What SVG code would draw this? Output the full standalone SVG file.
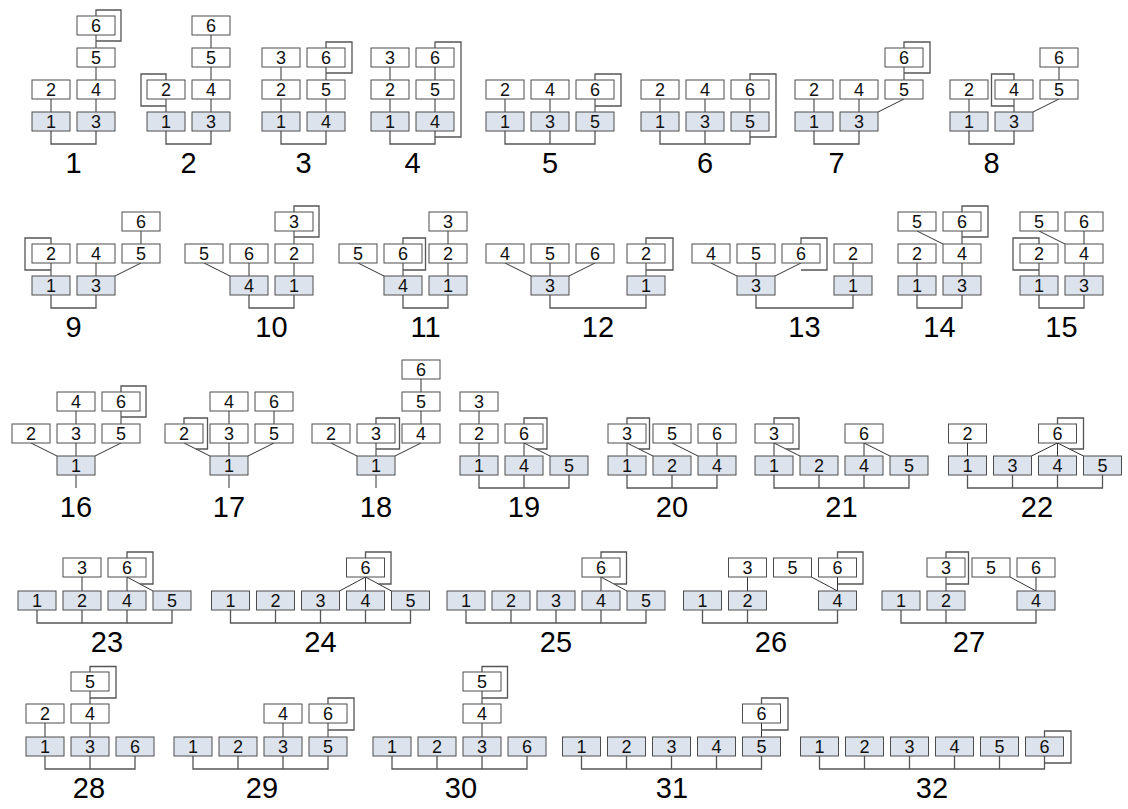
<svg xmlns="http://www.w3.org/2000/svg" width="1128" height="809" viewBox="0 0 1128 809">
<style>
rect{width:38px;height:19px;stroke:#4d4d4d;stroke-width:1}
.n{fill:#fff}
.g{fill:#dde3ec}
text{font-family:"Liberation Sans",Arial,sans-serif;text-anchor:middle;fill:#111}
.t{font-size:18px;transform:translateY(0.5px)}
.lab{font-size:29px;fill:#000}
.e{fill:none;stroke:#333;stroke-width:1}
.l{fill:none;stroke:#555;stroke-width:1.3}
.b{fill:none;stroke:#555;stroke-width:1.3}
</style>
<rect width="1128" height="809" style="width:1128px;height:809px;fill:#fff;stroke:none"/>

<!-- ===== Row 1 ===== -->
<g id="d1">
<g id="d1-connectors"><path class="e" d="M51 99V112M96 99V112M96 67V80M96 35V48"/><path class="l" d="M96 16V10H121V41H96"/><path class="b" d="M51 131V144H96V131"/></g>
<g id="d1-n1"><rect class="g" x="32" y="112"/><text class="t" x="51" y="127.5">1</text></g>
<g id="d1-n3"><rect class="g" x="77" y="112"/><text class="t" x="96" y="127.5">3</text></g>
<g id="d1-n2"><rect class="n" x="32" y="80"/><text class="t" x="51" y="95.5">2</text></g>
<g id="d1-n4"><rect class="n" x="77" y="80"/><text class="t" x="96" y="95.5">4</text></g>
<g id="d1-n5"><rect class="n" x="77" y="48"/><text class="t" x="96" y="63.5">5</text></g>
<g id="d1-n6"><rect class="n" x="77" y="16"/><text class="t" x="96" y="31.5">6</text></g>
<text class="lab" x="73.5" y="173">1</text>
</g>

<g id="d2">
<g id="d2-connectors"><path class="e" d="M166 99V112M211 99V112M211 67V80M211 35V48"/><path class="l" d="M166 80V74H141V106H166"/><path class="b" d="M166 131V144H211V131"/></g>
<g id="d2-n1"><rect class="g" x="147" y="112"/><text class="t" x="166" y="127.5">1</text></g>
<g id="d2-n3"><rect class="g" x="192" y="112"/><text class="t" x="211" y="127.5">3</text></g>
<g id="d2-n2"><rect class="n" x="147" y="80"/><text class="t" x="166" y="95.5">2</text></g>
<g id="d2-n4"><rect class="n" x="192" y="80"/><text class="t" x="211" y="95.5">4</text></g>
<g id="d2-n5"><rect class="n" x="192" y="48"/><text class="t" x="211" y="63.5">5</text></g>
<g id="d2-n6"><rect class="n" x="192" y="16"/><text class="t" x="211" y="31.5">6</text></g>
<text class="lab" x="188.5" y="173">2</text>
</g>

<g id="d3">
<g id="d3-connectors"><path class="e" d="M281 99V112M281 67V80M326 99V112M326 67V80"/><path class="l" d="M326 48V42H352V73H326"/><path class="b" d="M281 131V144H326V131"/></g>
<g id="d3-n1"><rect class="g" x="262" y="112"/><text class="t" x="281" y="127.5">1</text></g>
<g id="d3-n4"><rect class="g" x="307" y="112"/><text class="t" x="326" y="127.5">4</text></g>
<g id="d3-n2"><rect class="n" x="262" y="80"/><text class="t" x="281" y="95.5">2</text></g>
<g id="d3-n5"><rect class="n" x="307" y="80"/><text class="t" x="326" y="95.5">5</text></g>
<g id="d3-n3"><rect class="n" x="262" y="48"/><text class="t" x="281" y="63.5">3</text></g>
<g id="d3-n6"><rect class="n" x="307" y="48"/><text class="t" x="326" y="63.5">6</text></g>
<text class="lab" x="303.5" y="173">3</text>
</g>

<g id="d4">
<g id="d4-connectors"><path class="e" d="M390 99V112M390 67V80M435 99V112M435 67V80"/><path class="l" d="M435 48V42H461V137H435"/><path class="b" d="M390 131V144H435V131"/></g>
<g id="d4-n1"><rect class="g" x="371" y="112"/><text class="t" x="390" y="127.5">1</text></g>
<g id="d4-n4"><rect class="g" x="416" y="112"/><text class="t" x="435" y="127.5">4</text></g>
<g id="d4-n2"><rect class="n" x="371" y="80"/><text class="t" x="390" y="95.5">2</text></g>
<g id="d4-n5"><rect class="n" x="416" y="80"/><text class="t" x="435" y="95.5">5</text></g>
<g id="d4-n3"><rect class="n" x="371" y="48"/><text class="t" x="390" y="63.5">3</text></g>
<g id="d4-n6"><rect class="n" x="416" y="48"/><text class="t" x="435" y="63.5">6</text></g>
<text class="lab" x="412.5" y="173">4</text>
</g>

<g id="d5">
<g id="d5-connectors"><path class="e" d="M505 99V112M550 99V112M595 99V112"/><path class="l" d="M595 80V74H621V106H595"/><path class="b" d="M505 131V144H595V131M550 131V144"/></g>
<g id="d5-n1"><rect class="g" x="486" y="112"/><text class="t" x="505" y="127.5">1</text></g>
<g id="d5-n3"><rect class="g" x="531" y="112"/><text class="t" x="550" y="127.5">3</text></g>
<g id="d5-n5"><rect class="g" x="576" y="112"/><text class="t" x="595" y="127.5">5</text></g>
<g id="d5-n2"><rect class="n" x="486" y="80"/><text class="t" x="505" y="95.5">2</text></g>
<g id="d5-n4"><rect class="n" x="531" y="80"/><text class="t" x="550" y="95.5">4</text></g>
<g id="d5-n6"><rect class="n" x="576" y="80"/><text class="t" x="595" y="95.5">6</text></g>
<text class="lab" x="550" y="173">5</text>
</g>

<g id="d6">
<g id="d6-connectors"><path class="e" d="M660 99V112M705 99V112M750 99V112"/><path class="l" d="M750 80V74H776V137H750"/><path class="b" d="M660 131V144H750V131M705 131V144"/></g>
<g id="d6-n1"><rect class="g" x="641" y="112"/><text class="t" x="660" y="127.5">1</text></g>
<g id="d6-n3"><rect class="g" x="686" y="112"/><text class="t" x="705" y="127.5">3</text></g>
<g id="d6-n5"><rect class="g" x="731" y="112"/><text class="t" x="750" y="127.5">5</text></g>
<g id="d6-n2"><rect class="n" x="641" y="80"/><text class="t" x="660" y="95.5">2</text></g>
<g id="d6-n4"><rect class="n" x="686" y="80"/><text class="t" x="705" y="95.5">4</text></g>
<g id="d6-n6"><rect class="n" x="731" y="80"/><text class="t" x="750" y="95.5">6</text></g>
<text class="lab" x="705" y="173">6</text>
</g>

<g id="d7">
<g id="d7-connectors"><path class="e" d="M814 99V112M859 99V112M904 99L878 112M904 67V80"/><path class="l" d="M904 48V42H930V73H904"/><path class="b" d="M814 131V144H859V131"/></g>
<g id="d7-n1"><rect class="g" x="795" y="112"/><text class="t" x="814" y="127.5">1</text></g>
<g id="d7-n3"><rect class="g" x="840" y="112"/><text class="t" x="859" y="127.5">3</text></g>
<g id="d7-n2"><rect class="n" x="795" y="80"/><text class="t" x="814" y="95.5">2</text></g>
<g id="d7-n4"><rect class="n" x="840" y="80"/><text class="t" x="859" y="95.5">4</text></g>
<g id="d7-n5"><rect class="n" x="885" y="80"/><text class="t" x="904" y="95.5">5</text></g>
<g id="d7-n6"><rect class="n" x="885" y="48"/><text class="t" x="904" y="63.5">6</text></g>
<text class="lab" x="836.5" y="173">7</text>
</g>

<g id="d8">
<g id="d8-connectors"><path class="e" d="M969 99V112M1014 99V112M1059 99L1033 112M1059 67V80"/><path class="l" d="M1014 80V74H991.5V106H1014"/><path class="b" d="M969 131V144H1014V131"/></g>
<g id="d8-n1"><rect class="g" x="950" y="112"/><text class="t" x="969" y="127.5">1</text></g>
<g id="d8-n3"><rect class="g" x="995" y="112"/><text class="t" x="1014" y="127.5">3</text></g>
<g id="d8-n2"><rect class="n" x="950" y="80"/><text class="t" x="969" y="95.5">2</text></g>
<g id="d8-n4"><rect class="n" x="995" y="80"/><text class="t" x="1014" y="95.5">4</text></g>
<g id="d8-n5"><rect class="n" x="1040" y="80"/><text class="t" x="1059" y="95.5">5</text></g>
<g id="d8-n6"><rect class="n" x="1040" y="48"/><text class="t" x="1059" y="63.5">6</text></g>
<text class="lab" x="991.5" y="173">8</text>
</g>

<!-- ===== Row 2 ===== -->
<g id="d9">
<g id="d9-connectors"><path class="e" d="M51 263V276M96 263V276M141 263L115 276M141 231V244"/><path class="l" d="M51 244V238H25V270H51"/><path class="b" d="M51 295V308H96V295"/></g>
<g id="d9-n1"><rect class="g" x="32" y="276"/><text class="t" x="51" y="291.5">1</text></g>
<g id="d9-n3"><rect class="g" x="77" y="276"/><text class="t" x="96" y="291.5">3</text></g>
<g id="d9-n2"><rect class="n" x="32" y="244"/><text class="t" x="51" y="259.5">2</text></g>
<g id="d9-n4"><rect class="n" x="77" y="244"/><text class="t" x="96" y="259.5">4</text></g>
<g id="d9-n5"><rect class="n" x="122" y="244"/><text class="t" x="141" y="259.5">5</text></g>
<g id="d9-n6"><rect class="n" x="122" y="212"/><text class="t" x="141" y="227.5">6</text></g>
<text class="lab" x="73.5" y="337">9</text>
</g>

<g id="d10">
<g id="d10-connectors"><path class="e" d="M204 263L230 276M249 263V276M294 263V276M294 231V244"/><path class="l" d="M294 212V206H319V237H294"/><path class="b" d="M249 295V308H294V295"/></g>
<g id="d10-n4"><rect class="g" x="230" y="276"/><text class="t" x="249" y="291.5">4</text></g>
<g id="d10-n1"><rect class="g" x="275" y="276"/><text class="t" x="294" y="291.5">1</text></g>
<g id="d10-n5"><rect class="n" x="185" y="244"/><text class="t" x="204" y="259.5">5</text></g>
<g id="d10-n6"><rect class="n" x="230" y="244"/><text class="t" x="249" y="259.5">6</text></g>
<g id="d10-n2"><rect class="n" x="275" y="244"/><text class="t" x="294" y="259.5">2</text></g>
<g id="d10-n3"><rect class="n" x="275" y="212"/><text class="t" x="294" y="227.5">3</text></g>
<text class="lab" x="271.5" y="337">10</text>
</g>

<g id="d11">
<g id="d11-connectors"><path class="e" d="M358 263L384 276M403 263V276M448 263V276M448 231V244"/><path class="l" d="M403 244V238H425.5V270H403"/><path class="b" d="M403 295V308H448V295"/></g>
<g id="d11-n4"><rect class="g" x="384" y="276"/><text class="t" x="403" y="291.5">4</text></g>
<g id="d11-n1"><rect class="g" x="429" y="276"/><text class="t" x="448" y="291.5">1</text></g>
<g id="d11-n5"><rect class="n" x="339" y="244"/><text class="t" x="358" y="259.5">5</text></g>
<g id="d11-n6"><rect class="n" x="384" y="244"/><text class="t" x="403" y="259.5">6</text></g>
<g id="d11-n2"><rect class="n" x="429" y="244"/><text class="t" x="448" y="259.5">2</text></g>
<g id="d11-n3"><rect class="n" x="429" y="212"/><text class="t" x="448" y="227.5">3</text></g>
<text class="lab" x="425.5" y="337">11</text>
</g>

<g id="d12">
<g id="d12-connectors"><path class="e" d="M505 263L531 276M550 263V276M595 263L569 276M646 263V276"/><path class="l" d="M646 244V238H673V270H646"/><path class="b" d="M550 295V308H646V295"/></g>
<g id="d12-n3"><rect class="g" x="531" y="276"/><text class="t" x="550" y="291.5">3</text></g>
<g id="d12-n1"><rect class="g" x="627" y="276"/><text class="t" x="646" y="291.5">1</text></g>
<g id="d12-n4"><rect class="n" x="486" y="244"/><text class="t" x="505" y="259.5">4</text></g>
<g id="d12-n5"><rect class="n" x="531" y="244"/><text class="t" x="550" y="259.5">5</text></g>
<g id="d12-n6"><rect class="n" x="576" y="244"/><text class="t" x="595" y="259.5">6</text></g>
<g id="d12-n2"><rect class="n" x="627" y="244"/><text class="t" x="646" y="259.5">2</text></g>
<text class="lab" x="598" y="337">12</text>
</g>

<g id="d13">
<g id="d13-connectors"><path class="e" d="M711 263L737 276M756 263V276M801 263L775 276M853 263V276"/><path class="l" d="M801 244V238H827V270H801"/><path class="b" d="M756 295V308H853V295"/></g>
<g id="d13-n3"><rect class="g" x="737" y="276"/><text class="t" x="756" y="291.5">3</text></g>
<g id="d13-n1"><rect class="g" x="834" y="276"/><text class="t" x="853" y="291.5">1</text></g>
<g id="d13-n4"><rect class="n" x="692" y="244"/><text class="t" x="711" y="259.5">4</text></g>
<g id="d13-n5"><rect class="n" x="737" y="244"/><text class="t" x="756" y="259.5">5</text></g>
<g id="d13-n6"><rect class="n" x="782" y="244"/><text class="t" x="801" y="259.5">6</text></g>
<g id="d13-n2"><rect class="n" x="834" y="244"/><text class="t" x="853" y="259.5">2</text></g>
<text class="lab" x="804.5" y="337">13</text>
</g>

<g id="d14">
<g id="d14-connectors"><path class="e" d="M917 263V276M962 263V276M917 231L943 244M962 231V244"/><path class="l" d="M962 212V206H988V237H962"/><path class="b" d="M917 295V308H962V295"/></g>
<g id="d14-n1"><rect class="g" x="898" y="276"/><text class="t" x="917" y="291.5">1</text></g>
<g id="d14-n3"><rect class="g" x="943" y="276"/><text class="t" x="962" y="291.5">3</text></g>
<g id="d14-n2"><rect class="n" x="898" y="244"/><text class="t" x="917" y="259.5">2</text></g>
<g id="d14-n4"><rect class="n" x="943" y="244"/><text class="t" x="962" y="259.5">4</text></g>
<g id="d14-n5"><rect class="n" x="898" y="212"/><text class="t" x="917" y="227.5">5</text></g>
<g id="d14-n6"><rect class="n" x="943" y="212"/><text class="t" x="962" y="227.5">6</text></g>
<text class="lab" x="939.5" y="337">14</text>
</g>

<g id="d15">
<g id="d15-connectors"><path class="e" d="M1039 263V276M1084 263V276M1039 231L1065 244M1084 231V244"/><path class="l" d="M1039 244V238H1013V270H1039"/><path class="b" d="M1039 295V308H1084V295"/></g>
<g id="d15-n1"><rect class="g" x="1020" y="276"/><text class="t" x="1039" y="291.5">1</text></g>
<g id="d15-n3"><rect class="g" x="1065" y="276"/><text class="t" x="1084" y="291.5">3</text></g>
<g id="d15-n2"><rect class="n" x="1020" y="244"/><text class="t" x="1039" y="259.5">2</text></g>
<g id="d15-n4"><rect class="n" x="1065" y="244"/><text class="t" x="1084" y="259.5">4</text></g>
<g id="d15-n5"><rect class="n" x="1020" y="212"/><text class="t" x="1039" y="227.5">5</text></g>
<g id="d15-n6"><rect class="n" x="1065" y="212"/><text class="t" x="1084" y="227.5">6</text></g>
<text class="lab" x="1061.5" y="337">15</text>
</g>

<!-- ===== Row 3 ===== -->
<g id="d16">
<g id="d16-connectors"><path class="e" d="M31 443L57 456M76 443V456M121 443L95 456M76 411V424M121 411V424M76 475V488"/><path class="l" d="M121 392V386H146V417H121"/></g>
<g id="d16-n1"><rect class="g" x="57" y="456"/><text class="t" x="76" y="471.5">1</text></g>
<g id="d16-n2"><rect class="n" x="12" y="424"/><text class="t" x="31" y="439.5">2</text></g>
<g id="d16-n3"><rect class="n" x="57" y="424"/><text class="t" x="76" y="439.5">3</text></g>
<g id="d16-n5"><rect class="n" x="102" y="424"/><text class="t" x="121" y="439.5">5</text></g>
<g id="d16-n4"><rect class="n" x="57" y="392"/><text class="t" x="76" y="407.5">4</text></g>
<g id="d16-n6"><rect class="n" x="102" y="392"/><text class="t" x="121" y="407.5">6</text></g>
<text class="lab" x="76" y="517">16</text>
</g>

<g id="d17">
<g id="d17-connectors"><path class="e" d="M184 443L210 456M229 443V456M274 443L248 456M229 411V424M274 411V424M229 475V488"/><path class="l" d="M184 424V418H207.5V449H196"/></g>
<g id="d17-n1"><rect class="g" x="210" y="456"/><text class="t" x="229" y="471.5">1</text></g>
<g id="d17-n2"><rect class="n" x="165" y="424"/><text class="t" x="184" y="439.5">2</text></g>
<g id="d17-n3"><rect class="n" x="210" y="424"/><text class="t" x="229" y="439.5">3</text></g>
<g id="d17-n5"><rect class="n" x="255" y="424"/><text class="t" x="274" y="439.5">5</text></g>
<g id="d17-n4"><rect class="n" x="210" y="392"/><text class="t" x="229" y="407.5">4</text></g>
<g id="d17-n6"><rect class="n" x="255" y="392"/><text class="t" x="274" y="407.5">6</text></g>
<text class="lab" x="229" y="517">17</text>
</g>

<g id="d18">
<g id="d18-connectors"><path class="e" d="M331 443L357 456M376 443V456M421 443L395 456M421 411V424M421 379V392M376 475V488"/><path class="l" d="M376 424V418H399.5V449H376"/></g>
<g id="d18-n1"><rect class="g" x="357" y="456"/><text class="t" x="376" y="471.5">1</text></g>
<g id="d18-n2"><rect class="n" x="312" y="424"/><text class="t" x="331" y="439.5">2</text></g>
<g id="d18-n3"><rect class="n" x="357" y="424"/><text class="t" x="376" y="439.5">3</text></g>
<g id="d18-n4"><rect class="n" x="402" y="424"/><text class="t" x="421" y="439.5">4</text></g>
<g id="d18-n5"><rect class="n" x="402" y="392"/><text class="t" x="421" y="407.5">5</text></g>
<g id="d18-n6"><rect class="n" x="402" y="360"/><text class="t" x="421" y="375.5">6</text></g>
<text class="lab" x="376" y="517">18</text>
</g>

<g id="d19">
<g id="d19-connectors"><path class="e" d="M479 443V456M479 411V424M524 443V456M524 443L550 456"/><path class="l" d="M524 424V418H547V449H536"/><path class="b" d="M479 475V488H569V475M524 475V488"/></g>
<g id="d19-n1"><rect class="g" x="460" y="456"/><text class="t" x="479" y="471.5">1</text></g>
<g id="d19-n4"><rect class="g" x="505" y="456"/><text class="t" x="524" y="471.5">4</text></g>
<g id="d19-n5"><rect class="g" x="550" y="456"/><text class="t" x="569" y="471.5">5</text></g>
<g id="d19-n2"><rect class="n" x="460" y="424"/><text class="t" x="479" y="439.5">2</text></g>
<g id="d19-n6"><rect class="n" x="505" y="424"/><text class="t" x="524" y="439.5">6</text></g>
<g id="d19-n3"><rect class="n" x="460" y="392"/><text class="t" x="479" y="407.5">3</text></g>
<text class="lab" x="524" y="517">19</text>
</g>

<g id="d20">
<g id="d20-connectors"><path class="e" d="M627 443V456M627 443L653 456M672 443L698 456M717 443V456"/><path class="l" d="M627 424V418H649.5V449H639"/><path class="b" d="M627 475V488H717V475M672 475V488"/></g>
<g id="d20-n1"><rect class="g" x="608" y="456"/><text class="t" x="627" y="471.5">1</text></g>
<g id="d20-n2"><rect class="g" x="653" y="456"/><text class="t" x="672" y="471.5">2</text></g>
<g id="d20-n4"><rect class="g" x="698" y="456"/><text class="t" x="717" y="471.5">4</text></g>
<g id="d20-n3"><rect class="n" x="608" y="424"/><text class="t" x="627" y="439.5">3</text></g>
<g id="d20-n5"><rect class="n" x="653" y="424"/><text class="t" x="672" y="439.5">5</text></g>
<g id="d20-n6"><rect class="n" x="698" y="424"/><text class="t" x="717" y="439.5">6</text></g>
<text class="lab" x="672" y="517">20</text>
</g>

<g id="d21">
<g id="d21-connectors"><path class="e" d="M774 443V456M774 443L800 456M864 443V456M864 443L890 456"/><path class="l" d="M774 424V418H799V449H786"/><path class="b" d="M774 475V488H909V475M819 475V488M864 475V488"/></g>
<g id="d21-n1"><rect class="g" x="755" y="456"/><text class="t" x="774" y="471.5">1</text></g>
<g id="d21-n2"><rect class="g" x="800" y="456"/><text class="t" x="819" y="471.5">2</text></g>
<g id="d21-n4"><rect class="g" x="845" y="456"/><text class="t" x="864" y="471.5">4</text></g>
<g id="d21-n5"><rect class="g" x="890" y="456"/><text class="t" x="909" y="471.5">5</text></g>
<g id="d21-n3"><rect class="n" x="755" y="424"/><text class="t" x="774" y="439.5">3</text></g>
<g id="d21-n6"><rect class="n" x="845" y="424"/><text class="t" x="864" y="439.5">6</text></g>
<text class="lab" x="841.5" y="517">21</text>
</g>

<g id="d22">
<g id="d22-connectors"><path class="e" d="M967.5 443V456M1057.5 443L1031.5 456M1057.5 443V456M1057.5 443L1083.5 456"/><path class="l" d="M1057.5 424V418H1083.5V449H1069.5"/><path class="b" d="M967.5 475V488H1102.5V475M1012.5 475V488M1057.5 475V488"/></g>
<g id="d22-n1"><rect class="g" x="948.5" y="456"/><text class="t" x="967.5" y="471.5">1</text></g>
<g id="d22-n3"><rect class="g" x="993.5" y="456"/><text class="t" x="1012.5" y="471.5">3</text></g>
<g id="d22-n4"><rect class="g" x="1038.5" y="456"/><text class="t" x="1057.5" y="471.5">4</text></g>
<g id="d22-n5"><rect class="g" x="1083.5" y="456"/><text class="t" x="1102.5" y="471.5">5</text></g>
<g id="d22-n2"><rect class="n" x="948.5" y="424"/><text class="t" x="967.5" y="439.5">2</text></g>
<g id="d22-n6"><rect class="n" x="1038.5" y="424"/><text class="t" x="1057.5" y="439.5">6</text></g>
<text class="lab" x="1037" y="517">22</text>
</g>

<!-- ===== Row 4 ===== -->
<g id="d23">
<g id="d23-connectors"><path class="e" d="M82 577V591M127 577V591M127 577L153 591"/><path class="l" d="M127 558V552H153V584H140"/><path class="b" d="M37 610V623H172V610M82 610V623M127 610V623"/></g>
<g id="d23-n1"><rect class="g" x="18" y="591"/><text class="t" x="37" y="606.5">1</text></g>
<g id="d23-n2"><rect class="g" x="63" y="591"/><text class="t" x="82" y="606.5">2</text></g>
<g id="d23-n4"><rect class="g" x="108" y="591"/><text class="t" x="127" y="606.5">4</text></g>
<g id="d23-n5"><rect class="g" x="153" y="591"/><text class="t" x="172" y="606.5">5</text></g>
<g id="d23-n3"><rect class="n" x="63" y="558"/><text class="t" x="82" y="573.5">3</text></g>
<g id="d23-n6"><rect class="n" x="108" y="558"/><text class="t" x="127" y="573.5">6</text></g>
<text class="lab" x="107" y="652">23</text>
</g>

<g id="d24">
<g id="d24-connectors"><path class="e" d="M365.5 577L339.5 591M365.5 577V591M365.5 577L391.5 591"/><path class="l" d="M365.5 558V552H391V584H378.5"/><path class="b" d="M230.5 610V623H410.5V610M275.5 610V623M320.5 610V623M365.5 610V623"/></g>
<g id="d24-n1"><rect class="g" x="211.5" y="591"/><text class="t" x="230.5" y="606.5">1</text></g>
<g id="d24-n2"><rect class="g" x="256.5" y="591"/><text class="t" x="275.5" y="606.5">2</text></g>
<g id="d24-n3"><rect class="g" x="301.5" y="591"/><text class="t" x="320.5" y="606.5">3</text></g>
<g id="d24-n4"><rect class="g" x="346.5" y="591"/><text class="t" x="365.5" y="606.5">4</text></g>
<g id="d24-n5"><rect class="g" x="391.5" y="591"/><text class="t" x="410.5" y="606.5">5</text></g>
<g id="d24-n6"><rect class="n" x="346.5" y="558"/><text class="t" x="365.5" y="573.5">6</text></g>
<text class="lab" x="320.5" y="652">24</text>
</g>

<g id="d25">
<g id="d25-connectors"><path class="e" d="M601 577V591M601 577L627 591"/><path class="l" d="M601 558V552H626.5V584H614"/><path class="b" d="M466 610V623H646V610M511 610V623M556 610V623M601 610V623"/></g>
<g id="d25-n1"><rect class="g" x="447" y="591"/><text class="t" x="466" y="606.5">1</text></g>
<g id="d25-n2"><rect class="g" x="492" y="591"/><text class="t" x="511" y="606.5">2</text></g>
<g id="d25-n3"><rect class="g" x="537" y="591"/><text class="t" x="556" y="606.5">3</text></g>
<g id="d25-n4"><rect class="g" x="582" y="591"/><text class="t" x="601" y="606.5">4</text></g>
<g id="d25-n5"><rect class="g" x="627" y="591"/><text class="t" x="646" y="606.5">5</text></g>
<g id="d25-n6"><rect class="n" x="582" y="558"/><text class="t" x="601" y="573.5">6</text></g>
<text class="lab" x="556" y="652">25</text>
</g>

<g id="d26">
<g id="d26-connectors"><path class="e" d="M747.5 577V591M811.5 577L837.5 591M837.5 577V591"/><path class="l" d="M837.5 558V552H863V584H837.5"/><path class="b" d="M702.5 610V623H837.5V610M747.5 610V623"/></g>
<g id="d26-n1"><rect class="g" x="683.5" y="591"/><text class="t" x="702.5" y="606.5">1</text></g>
<g id="d26-n2"><rect class="g" x="728.5" y="591"/><text class="t" x="747.5" y="606.5">2</text></g>
<g id="d26-n4"><rect class="g" x="818.5" y="591"/><text class="t" x="837.5" y="606.5">4</text></g>
<g id="d26-n3"><rect class="n" x="728.5" y="558"/><text class="t" x="747.5" y="573.5">3</text></g>
<g id="d26-n5"><rect class="n" x="773.5" y="558"/><text class="t" x="792.5" y="573.5">5</text></g>
<g id="d26-n6"><rect class="n" x="818.5" y="558"/><text class="t" x="837.5" y="573.5">6</text></g>
<text class="lab" x="771" y="652">26</text>
</g>

<g id="d27">
<g id="d27-connectors"><path class="e" d="M946 577V591M1010 577L1036 591M1036 577V591"/><path class="l" d="M946 558V552H968.5V584H946"/><path class="b" d="M901 610V623H1036V610M946 610V623"/></g>
<g id="d27-n1"><rect class="g" x="882" y="591"/><text class="t" x="901" y="606.5">1</text></g>
<g id="d27-n2"><rect class="g" x="927" y="591"/><text class="t" x="946" y="606.5">2</text></g>
<g id="d27-n4"><rect class="g" x="1017" y="591"/><text class="t" x="1036" y="606.5">4</text></g>
<g id="d27-n3"><rect class="n" x="927" y="558"/><text class="t" x="946" y="573.5">3</text></g>
<g id="d27-n5"><rect class="n" x="972" y="558"/><text class="t" x="991" y="573.5">5</text></g>
<g id="d27-n6"><rect class="n" x="1017" y="558"/><text class="t" x="1036" y="573.5">6</text></g>
<text class="lab" x="969" y="652">27</text>
</g>

<!-- ===== Row 5 ===== -->
<g id="d28">
<g id="d28-connectors"><path class="e" d="M45 723V737M90 723V737M90 691V704"/><path class="l" d="M90 672V666.5H116V698H90"/><path class="b" d="M45 756V769H135V756M90 756V769"/></g>
<g id="d28-n1"><rect class="g" x="26" y="737"/><text class="t" x="45" y="752.5">1</text></g>
<g id="d28-n3"><rect class="g" x="71" y="737"/><text class="t" x="90" y="752.5">3</text></g>
<g id="d28-n6"><rect class="g" x="116" y="737"/><text class="t" x="135" y="752.5">6</text></g>
<g id="d28-n2"><rect class="n" x="26" y="704"/><text class="t" x="45" y="719.5">2</text></g>
<g id="d28-n4"><rect class="n" x="71" y="704"/><text class="t" x="90" y="719.5">4</text></g>
<g id="d28-n5"><rect class="n" x="71" y="672"/><text class="t" x="90" y="687.5">5</text></g>
<text class="lab" x="89" y="798">28</text>
</g>

<g id="d29">
<g id="d29-connectors"><path class="e" d="M283 723V737M328 723V737"/><path class="l" d="M328 704V698H354V730H328"/><path class="b" d="M193 756V769H328V756M238 756V769M283 756V769"/></g>
<g id="d29-n1"><rect class="g" x="174" y="737"/><text class="t" x="193" y="752.5">1</text></g>
<g id="d29-n2"><rect class="g" x="219" y="737"/><text class="t" x="238" y="752.5">2</text></g>
<g id="d29-n3"><rect class="g" x="264" y="737"/><text class="t" x="283" y="752.5">3</text></g>
<g id="d29-n5"><rect class="g" x="309" y="737"/><text class="t" x="328" y="752.5">5</text></g>
<g id="d29-n4"><rect class="n" x="264" y="704"/><text class="t" x="283" y="719.5">4</text></g>
<g id="d29-n6"><rect class="n" x="309" y="704"/><text class="t" x="328" y="719.5">6</text></g>
<text class="lab" x="262" y="798">29</text>
</g>

<g id="d30">
<g id="d30-connectors"><path class="e" d="M482 723V737M482 691V704"/><path class="l" d="M482 672V666.5H507.5V698H482"/><path class="b" d="M392 756V769H527V756M437 756V769M482 756V769"/></g>
<g id="d30-n1"><rect class="g" x="373" y="737"/><text class="t" x="392" y="752.5">1</text></g>
<g id="d30-n2"><rect class="g" x="418" y="737"/><text class="t" x="437" y="752.5">2</text></g>
<g id="d30-n3"><rect class="g" x="463" y="737"/><text class="t" x="482" y="752.5">3</text></g>
<g id="d30-n6"><rect class="g" x="508" y="737"/><text class="t" x="527" y="752.5">6</text></g>
<g id="d30-n4"><rect class="n" x="463" y="704"/><text class="t" x="482" y="719.5">4</text></g>
<g id="d30-n5"><rect class="n" x="463" y="672"/><text class="t" x="482" y="687.5">5</text></g>
<text class="lab" x="461" y="798">30</text>
</g>

<g id="d31">
<g id="d31-connectors"><path class="e" d="M761.5 723V737"/><path class="l" d="M761.5 704V698H788V730H761.5"/><path class="b" d="M581.5 756V769H761.5V756M626.5 756V769M671.5 756V769M716.5 756V769"/></g>
<g id="d31-n1"><rect class="g" x="562.5" y="737"/><text class="t" x="581.5" y="752.5">1</text></g>
<g id="d31-n2"><rect class="g" x="607.5" y="737"/><text class="t" x="626.5" y="752.5">2</text></g>
<g id="d31-n3"><rect class="g" x="652.5" y="737"/><text class="t" x="671.5" y="752.5">3</text></g>
<g id="d31-n4"><rect class="g" x="697.5" y="737"/><text class="t" x="716.5" y="752.5">4</text></g>
<g id="d31-n5"><rect class="g" x="742.5" y="737"/><text class="t" x="761.5" y="752.5">5</text></g>
<g id="d31-n6"><rect class="n" x="742.5" y="704"/><text class="t" x="761.5" y="719.5">6</text></g>
<text class="lab" x="672" y="798">31</text>
</g>

<g id="d32">
<g id="d32-connectors"><path class="l" d="M1044.5 737V731H1071V763H1044.5"/><path class="b" d="M819.5 756V769H1044.5V756M864.5 756V769M909.5 756V769M954.5 756V769M999.5 756V769"/></g>
<g id="d32-n1"><rect class="g" x="800.5" y="737"/><text class="t" x="819.5" y="752.5">1</text></g>
<g id="d32-n2"><rect class="g" x="845.5" y="737"/><text class="t" x="864.5" y="752.5">2</text></g>
<g id="d32-n3"><rect class="g" x="890.5" y="737"/><text class="t" x="909.5" y="752.5">3</text></g>
<g id="d32-n4"><rect class="g" x="935.5" y="737"/><text class="t" x="954.5" y="752.5">4</text></g>
<g id="d32-n5"><rect class="g" x="980.5" y="737"/><text class="t" x="999.5" y="752.5">5</text></g>
<g id="d32-n6"><rect class="g" x="1025.5" y="737"/><text class="t" x="1044.5" y="752.5">6</text></g>
<text class="lab" x="932" y="798">32</text>
</g>
</svg>
